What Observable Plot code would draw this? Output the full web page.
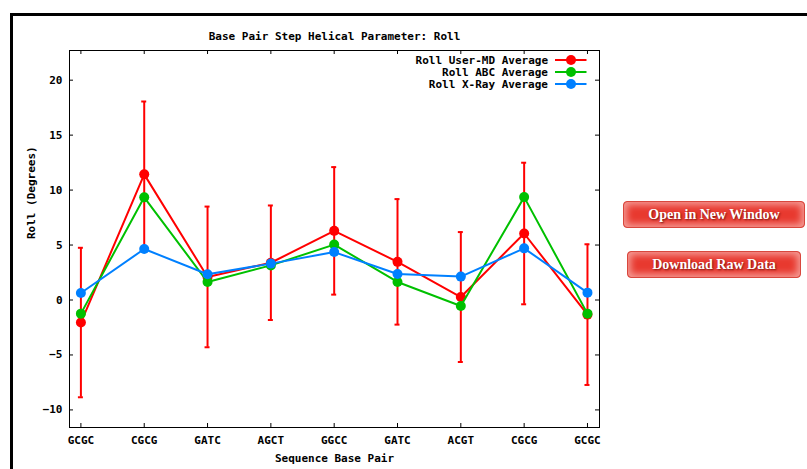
<!DOCTYPE html>
<html>
<head>
<meta charset="utf-8">
<script src="https://cdn.jsdelivr.net/npm/d3@7"></script>
<script src="https://cdn.jsdelivr.net/npm/@observablehq/plot@0.6"></script>
<style>
  html, body { margin: 0; padding: 0; background: #fff; overflow: hidden; }
  body { width: 807px; height: 469px; position: relative; }
  #panel {
    position: absolute; left: 10px; top: 13px; width: 900px; height: 600px;
    border-left: 3.5px solid #000; border-top: 3px solid #000; box-sizing: border-box;
  }
  #chart { position: absolute; left: 0; top: 0; }
  #legend { position: absolute; left: 0; top: 0; pointer-events: none; }
  .btn {
    position: absolute; box-sizing: border-box; height: 27px;
    border: 1px solid #d8473d; border-radius: 4px;
    background: #e8392f;
    box-shadow: inset 0 0 7px 3px #f49a94;
    color: #fff; font-family: "Liberation Serif", "DejaVu Serif", serif;
    font-weight: bold; font-size: 14px; line-height: 25px; text-align: center;
    text-shadow: 1px 1px 2px #7a1410;
  }
</style>
</head>
<body>
<div id="panel"></div>
<div id="chart"></div>
<svg id="legend" width="807" height="469"></svg>
<div class="btn" style="left:623px; top:201px; width:182px;">Open in New Window</div>
<div class="btn" style="left:627px; top:251px; width:174px;">Download Raw Data</div>
<script>
// Base pair steps along the sequence
const steps = ["GCGC", "CGCG", "GATC", "AGCT", "GGCC", "GATC", "ACGT", "CGCG", "GCGC"];

// Roll averages (degrees) per step
const userMD    = [-2.05, 11.43, 2.10, 3.39, 6.29, 3.47, 0.27, 6.05, -1.33];
const userMDErr = [ 6.80,  6.63, 6.40, 5.21, 5.80, 5.71, 5.91, 6.44,  6.40];
const abc       = [-1.24,  9.34, 1.64, 3.15, 5.04, 1.64, -0.55, 9.36, -1.24];
const xray      = [ 0.64,  4.64, 2.34, 3.31, 4.36, 2.36, 2.13, 4.70,  0.67];

const yTicks = [-10, -5, 0, 5, 10, 15, 20];
const seriesNames = ["Roll User-MD Average", "Roll ABC Average", "Roll X-Ray Average"];
const seriesColors = ["#ff0000", "#00c000", "#0080ff"];

const idx = steps.map((_, i) => i);
const rows = (vals) => vals.map((v, i) => ({i, v}));
const mdRows = userMD.map((v, i) => ({i, v, lo: v - userMDErr[i], hi: v + userMDErr[i]}));

const mono = "'DejaVu Sans Mono', 'Liberation Mono', monospace";
const W = 807, H = 469;
const mL = 69, mR = 208, mT = 50, mB = 42;
const innerW = W - mL - mR, innerH = H - mT - mB;

const chart = Plot.plot({
  width: W, height: H,
  marginLeft: mL, marginRight: mR, marginTop: mT, marginBottom: mB,
  style: {fontFamily: mono, fontSize: "11px", fontWeight: "bold", color: "#000", background: "transparent"},
  x: {domain: [-0.18, 8.19]},
  y: {domain: [-11.6, 22.7]},
  marks: [
    Plot.frame({stroke: "#000", strokeWidth: 1}),
    // inward ticks on all four sides
    Plot.ruleY(yTicks, {stroke: "#000", insetRight: innerW - 4}),
    Plot.ruleY(yTicks, {stroke: "#000", insetLeft: innerW - 4}),
    Plot.ruleX(idx, {stroke: "#000", insetTop: innerH - 4}),
    Plot.ruleX(idx, {stroke: "#000", insetBottom: innerH - 4}),
    Plot.axisY({ticks: yTicks, tickSize: 0, tickPadding: 7, label: null, fill: "#000"}),
    Plot.axisX({ticks: idx, tickFormat: (i) => steps[i], tickSize: 0, tickPadding: 9, label: null, fill: "#000"}),
    Plot.text(["Base Pair Step Helical Parameter: Roll"], {frameAnchor: "top", dy: -18, fill: "#000"}),
    Plot.text(["Sequence Base Pair"], {frameAnchor: "bottom", dy: 34, fill: "#000"}),
    Plot.text(["Roll (Degrees)"], {frameAnchor: "left", dx: -38, rotate: -90, fill: "#000"}),
    // User-MD with error bars
    Plot.ruleX(mdRows, {x: "i", y1: "lo", y2: "hi", stroke: seriesColors[0], strokeWidth: 2}),
    Plot.ruleY(mdRows, {y: "hi", x1: "i", x2: "i", stroke: seriesColors[0], strokeWidth: 2, insetLeft: -2.5, insetRight: -2.5}),
    Plot.ruleY(mdRows, {y: "lo", x1: "i", x2: "i", stroke: seriesColors[0], strokeWidth: 2, insetLeft: -2.5, insetRight: -2.5}),
    Plot.line(mdRows, {x: "i", y: "v", stroke: seriesColors[0], strokeWidth: 2}),
    Plot.dot(mdRows, {x: "i", y: "v", r: 5, fill: seriesColors[0]}),
    Plot.line(rows(abc), {x: "i", y: "v", stroke: seriesColors[1], strokeWidth: 2}),
    Plot.dot(rows(abc), {x: "i", y: "v", r: 5, fill: seriesColors[1]}),
    Plot.line(rows(xray), {x: "i", y: "v", stroke: seriesColors[2], strokeWidth: 2}),
    Plot.dot(rows(xray), {x: "i", y: "v", r: 5, fill: seriesColors[2]})
  ]
});
document.getElementById("chart").appendChild(chart);

// Key in the upper right corner of the plot area
const legend = d3.select("#legend");
const keyRight = W - mR;
seriesNames.forEach((name, k) => {
  const y = 60 + k * 12;
  legend.append("text")
    .attr("x", keyRight - 51).attr("y", y).attr("dy", "0.35em")
    .attr("text-anchor", "end")
    .attr("font-family", mono).attr("font-size", 11).attr("font-weight", "bold")
    .attr("fill", "#000").text(name);
  legend.append("line")
    .attr("x1", keyRight - 44).attr("x2", keyRight - 12.5)
    .attr("y1", y).attr("y2", y)
    .attr("stroke", seriesColors[k]).attr("stroke-width", 2);
  legend.append("circle")
    .attr("cx", keyRight - 28).attr("cy", y).attr("r", 5)
    .attr("fill", seriesColors[k]);
});
</script>
</body>
</html>
